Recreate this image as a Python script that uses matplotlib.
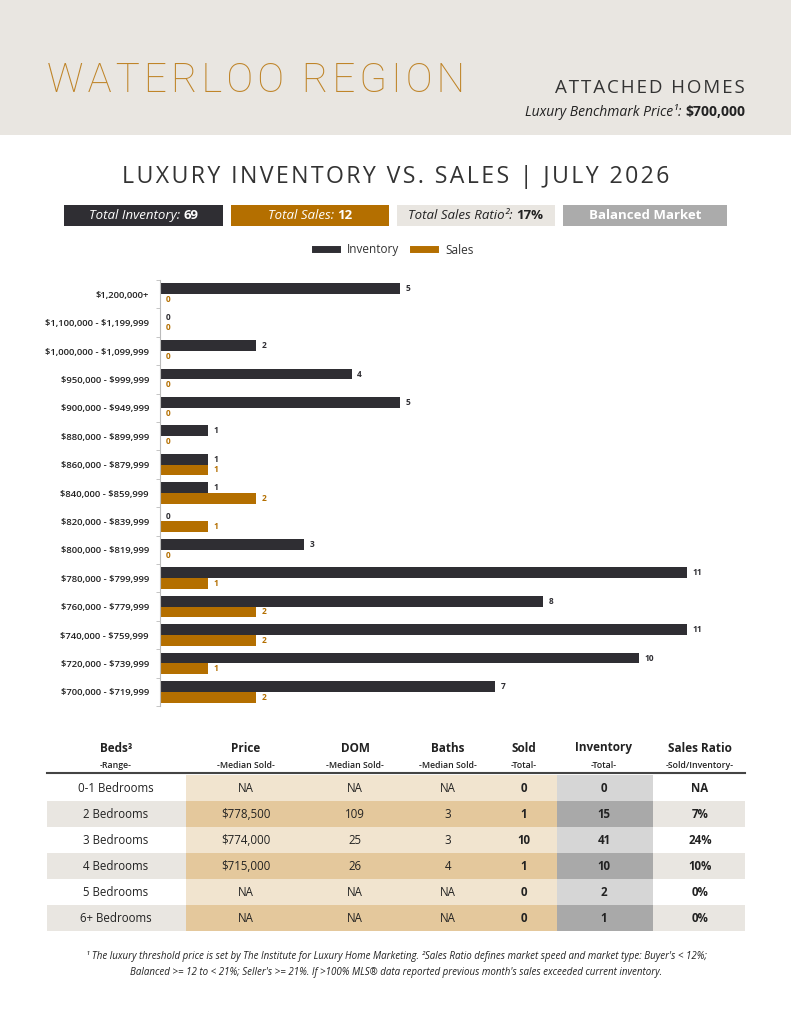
import numpy as np
import matplotlib
matplotlib.use("Agg")
import matplotlib.pyplot as plt
from matplotlib.patches import Rectangle
from matplotlib.lines import Line2D

plt.rcParams['font.family'] = ['Open Sans', 'DejaVu Sans']
plt.rcParams['text.parse_math'] = False

# chart data (top to bottom)
price_ranges = ["$1,200,000+", "$1,100,000 - $1,199,999", "$1,000,000 - $1,099,999",
                "$950,000 - $999,999", "$900,000 - $949,999", "$880,000 - $899,999",
                "$860,000 - $879,999", "$840,000 - $859,999", "$820,000 - $839,999",
                "$800,000 - $819,999", "$780,000 - $799,999", "$760,000 - $779,999",
                "$740,000 - $759,999", "$720,000 - $739,999", "$700,000 - $719,999"]
inventory = [5, 0, 2, 4, 5, 1, 1, 1, 0, 3, 11, 8, 11, 10, 7]
sales = [0, 0, 0, 0, 0, 0, 1, 2, 1, 0, 1, 2, 2, 1, 2]

# table data
beds = ["0-1 Bedrooms", "2 Bedrooms", "3 Bedrooms", "4 Bedrooms", "5 Bedrooms", "6+ Bedrooms"]
med_price = ["NA", "$778,500", "$774,000", "$715,000", "NA", "NA"]
med_dom = ["NA", "109", "25", "26", "NA", "NA"]
med_baths = ["NA", "3", "3", "4", "NA", "NA"]
sold_total = ["0", "1", "10", "1", "0", "0"]
inv_total = ["0", "15", "41", "10", "2", "1"]
sales_ratio = ["NA", "7%", "24%", "10%", "0%", "0%"]

W, H = 791, 1024
DARK = "#2f2e33"
GOLD = "#b46f00"
TITLE_GOLD = "#bf8428"
BAND = "#e9e6e1"
HS = "\u200a"  # hair space for letter tracking

fig = plt.figure(figsize=(W / 100, H / 100), dpi=100)
renderer = fig.canvas.get_renderer()


def fx(x):
    return x / W


def fy(y):
    return 1 - y / H


def tracked(s):
    return HS.join(s)


def rect(x0, y0, x1, y1, color, z=0):
    fig.patches.append(Rectangle((fx(x0), fy(y1)), (x1 - x0) / W, (y1 - y0) / H,
                                 transform=fig.transFigure, facecolor=color,
                                 edgecolor='none', zorder=z))


def rich(x, y, parts, ha='center', size=9.5):
    # place several styled pieces of text side by side
    texts = []
    for s, kw in parts:
        t = fig.text(0, fy(y), s, va='center', ha='left', fontsize=size, **kw)
        texts.append(t)
    widths = [t.get_window_extent(renderer).width for t in texts]
    total = sum(widths)
    if ha == 'center':
        start = x - total / 2
    elif ha == 'right':
        start = x - total
    else:
        start = x
    for t, w in zip(texts, widths):
        t.set_x(fx(start))
        start += w


# header band
rect(0, 0, W, 135, BAND)
fig.text(fx(47), fy(81), tracked("WATERLOO REGION"), fontsize=29, color=TITLE_GOLD,
         fontfamily=['Roboto', 'DejaVu Sans'], fontweight='light', va='center', ha='left')
fig.text(fx(745), fy(88), tracked("ATTACHED HOMES"), fontsize=13.5, color="#333333",
         va='center', ha='right')
rich(745, 112, [("Luxury Benchmark Price¹: ", dict(style='italic', color="#222222")),
                ("$700,000", dict(weight='bold', color="#222222"))], ha='right', size=10)

fig.text(fx(396), fy(177), tracked("LUXURY INVENTORY VS. SALES | JULY 2026"), fontsize=16.7,
         color="#333333", va='center', ha='center')

# summary boxes
boxes = [(64, 223, DARK), (231, 389, GOLD), (397, 555, BAND), (563, 727, "#ababab")]
for x0, x1, c in boxes:
    rect(x0, 205, x1, 226, c)
rich(143.5, 215.5, [("Total Inventory: ", dict(style='italic', color='white')),
                    ("69", dict(weight='bold', color='white'))])
rich(310, 215.5, [("Total Sales: ", dict(style='italic', color='white')),
                  ("12", dict(weight='bold', color='white'))])
rich(476, 215.5, [("Total Sales Ratio²: ", dict(style='italic', color='#222222')),
                  ("17%", dict(weight='bold', color='#222222'))])
rich(645, 215.5, [("Balanced Market", dict(weight='bold', color='white'))])

# bar chart
n = len(price_ranges)
pos = np.arange(n)
ax = fig.add_axes([fx(160), fy(706), 575 / W, 426 / H])
bh = 0.38
ax.barh(pos - bh / 2, inventory, height=bh, color=DARK, label="Inventory")
ax.barh(pos + bh / 2, sales, height=bh, color=GOLD, label="Sales")
for p, v in zip(pos, inventory):
    ax.annotate(str(v), (v, p - bh / 2), xytext=(4, 0), textcoords='offset points',
                va='center', ha='left', fontsize=6, fontweight='bold', color=DARK)
for p, v in zip(pos, sales):
    ax.annotate(str(v), (v, p + bh / 2), xytext=(4, 0), textcoords='offset points',
                va='center', ha='left', fontsize=6, fontweight='bold', color=GOLD)
ax.set_xlim(0, 12)
ax.set_ylim(n - 0.5, -0.5)
ax.set_yticks(pos)
ax.set_yticklabels(price_ranges, fontsize=6.8, fontweight='semibold', color="#222222")
ax.set_yticks(np.arange(n + 1) - 0.5, minor=True)
ax.tick_params(axis='y', which='major', length=0, pad=8)
ax.tick_params(axis='y', which='minor', length=3, color="#bbbbbb")
ax.set_xticks([])
for s in ['top', 'right', 'bottom']:
    ax.spines[s].set_visible(False)
ax.spines['left'].set_color("#bbbbbb")

handles = [Line2D([], [], color=DARK, lw=5), Line2D([], [], color=GOLD, lw=5)]
fig.legend(handles, ["Inventory", "Sales"], loc='center', bbox_to_anchor=(fx(394), fy(250)),
           ncol=2, frameon=False, fontsize=8.5, handlelength=1.9, columnspacing=1.2,
           handletextpad=0.8, labelcolor="#333333")

# table
cols_x = [116, 246, 355, 448, 524, 604, 700]
heads = ["Beds³", "Price", "DOM", "Baths", "Sold", "Inventory", "Sales Ratio"]
subs = ["-Range-", "-Median Sold-", "-Median Sold-", "-Median Sold-", "-Total-", "-Total-",
        "-Sold/Inventory-"]
for x, h, s in zip(cols_x, heads, subs):
    fig.text(fx(x), fy(748), h, ha='center', va='center', fontsize=8.5, fontweight='bold',
             color="#222222")
    fig.text(fx(x), fy(766), s, ha='center', va='center', fontsize=6.3, fontweight='semibold',
             color="#222222")

row_top = 775
row_h = 26
for i in range(len(beds)):
    y0 = row_top + i * row_h
    y1 = y0 + row_h
    dark_row = i % 2 == 1
    rect(47, y0, 186, y1, BAND if dark_row else "white")
    rect(186, y0, 557, y1, "#e4c89c" if dark_row else "#f1e4cf")
    rect(557, y0, 653, y1, "#a9a9a9" if dark_row else "#d6d6d6")
    rect(653, y0, 745, y1, BAND if dark_row else "white")
    yc = y0 + row_h / 2
    vals = [beds[i], med_price[i], med_dom[i], med_baths[i], sold_total[i], inv_total[i],
            sales_ratio[i]]
    for j, (x, v) in enumerate(zip(cols_x, vals)):
        fig.text(fx(x), fy(yc), v, ha='center', va='center', fontsize=8.3,
                 fontweight='bold' if j >= 4 else 'normal', color="#222222")

fig.lines.append(Line2D([fx(47), fx(745)], [fy(773), fy(773)], transform=fig.transFigure,
                        color="#444444", lw=1.5))

fig.text(fx(396), fy(957), "¹ The luxury threshold price is set by The Institute for Luxury Home "
         "Marketing. ²Sales Ratio defines market speed and market type: Buyer's < 12%;",
         ha='center', va='center', fontsize=7, style='italic', color="#222222")
fig.text(fx(396), fy(972), "Balanced >= 12 to < 21%; Seller's >= 21%. If >100% MLS® data "
         "reported previous month's sales exceeded current inventory.",
         ha='center', va='center', fontsize=7, style='italic', color="#222222")

fig.savefig("out.png", dpi=100)
